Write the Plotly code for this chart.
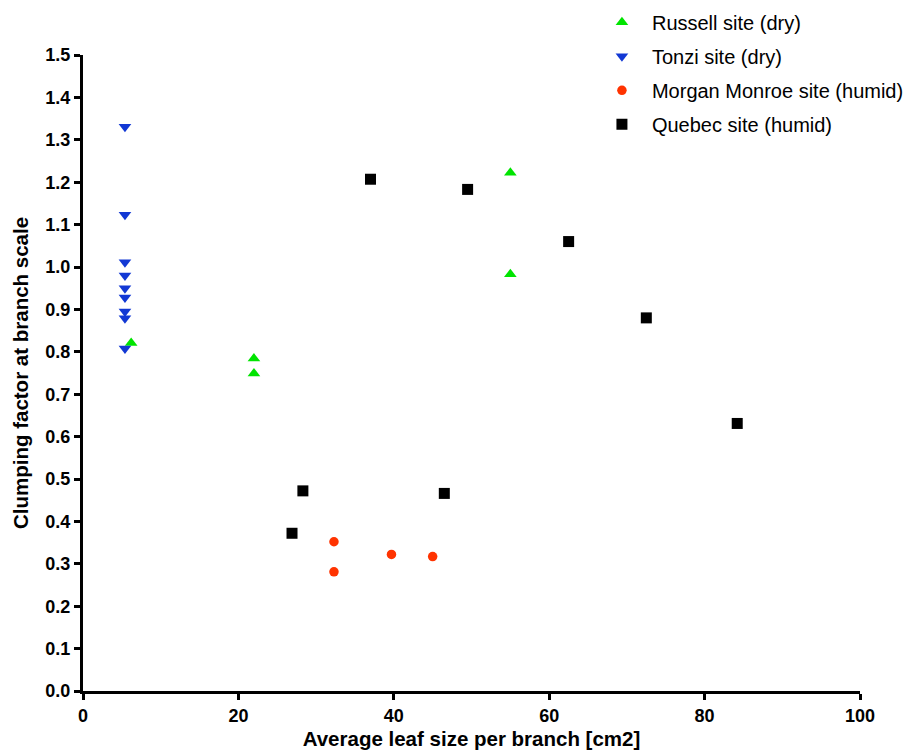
import plotly.graph_objects as go

# Average leaf size per branch [cm2] and clumping factor at branch scale, per site
russell_x = [6.2, 22.0, 22.0, 55.0, 55.0]
russell_y = [0.821, 0.784, 0.749, 1.222, 0.983]

tonzi_x = [5.4, 5.4, 5.4, 5.4, 5.4, 5.4, 5.4, 5.4, 5.4]
tonzi_y = [1.331, 1.123, 1.011, 0.980, 0.950, 0.928, 0.895, 0.879, 0.808]

morgan_x = [32.3, 32.3, 39.7, 45.0]
morgan_y = [0.352, 0.281, 0.322, 0.317]

quebec_x = [37.0, 49.5, 62.5, 72.5, 84.2, 28.3, 46.5, 26.9]
quebec_y = [1.207, 1.183, 1.060, 0.880, 0.631, 0.472, 0.466, 0.372]

x_ticks = [0, 20, 40, 60, 80, 100]
y_ticks = [i / 10 for i in range(16)]
y_tick_text = [f"{v:.1f}" for v in y_ticks]

FONT = "Liberation Sans, Arial, sans-serif"

fig = go.Figure()
series = [
    ("Russell site (dry)", russell_x, russell_y, "triangle-up", "#00E400", 11),
    ("Tonzi site (dry)", tonzi_x, tonzi_y, "triangle-down", "#1238D4", 11),
    ("Morgan Monroe site (humid)", morgan_x, morgan_y, "circle", "#FF3300", 9.5),
    ("Quebec site (humid)", quebec_x, quebec_y, "square", "#000000", 11),
]
for name, xs, ys, sym, col, sz in series:
    fig.add_trace(go.Scatter(
        x=xs, y=ys, mode="markers", name=name, legendgroup=name,
        marker=dict(symbol=sym, color=col, size=sz, line=dict(width=0)),
    ))

axis_common = dict(
    showgrid=False, zeroline=False, showline=True, linecolor="black",
    linewidth=3, ticks="outside", ticklen=6, tickwidth=2.5, tickcolor="black",
    tickfont=dict(family=FONT, size=18, color="black", weight="bold"),
    mirror=False, automargin=False,
)

fig.update_layout(
    width=912, height=750,
    margin=dict(l=83, r=52, t=55, b=59, autoexpand=False),
    paper_bgcolor="white", plot_bgcolor="white",
    font=dict(family=FONT, color="black"),
    xaxis=dict(
        range=[0, 100], tickvals=x_ticks, **axis_common,
        title=dict(text="Average leaf size per branch [cm2]", standoff=8,
                   font=dict(family=FONT, size=20.5, color="black", weight="bold")),
    ),
    yaxis=dict(
        range=[0, 1.5], tickvals=y_ticks, ticktext=y_tick_text, **axis_common,
        title=dict(text="Clumping factor at branch scale", standoff=12,
                   font=dict(family=FONT, size=20.5, color="black", weight="bold")),
    ),
    legend=dict(
        x=0.655, y=1.082, xanchor="left", yanchor="top",
        font=dict(family=FONT, size=20, color="black"),
        bgcolor="rgba(0,0,0,0)", tracegroupgap=5, itemwidth=50,
    ),
)

fig.write_html("out.html")
